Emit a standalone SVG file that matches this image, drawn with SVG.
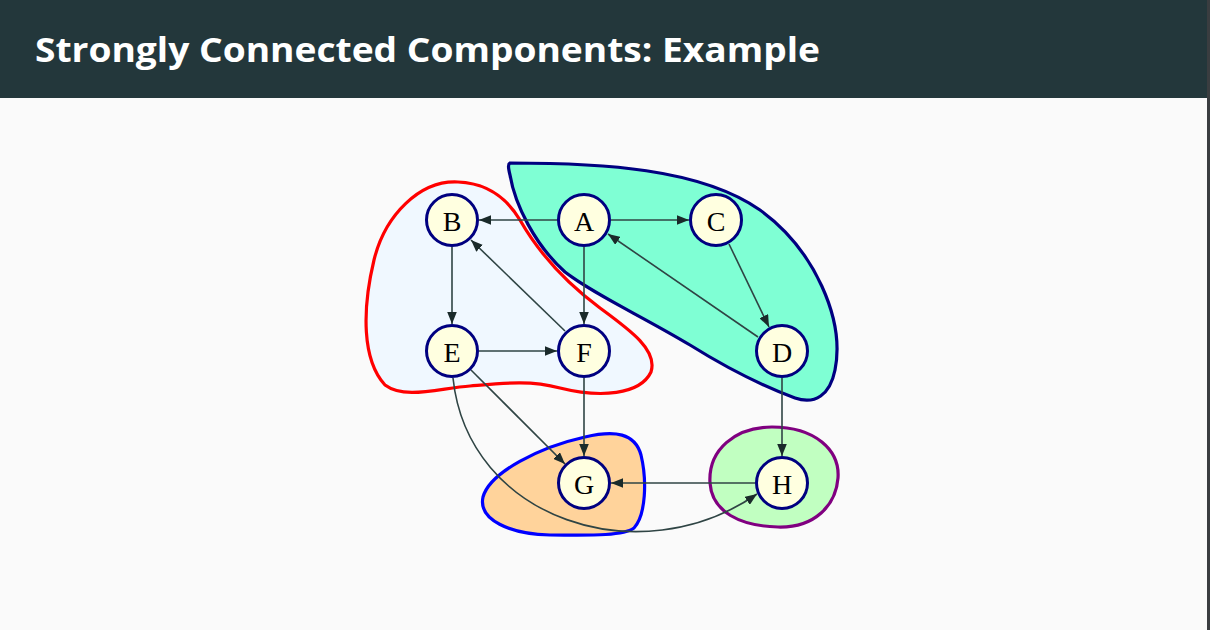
<svg xmlns="http://www.w3.org/2000/svg" width="1210" height="630" viewBox="0 0 1210 630">
<defs>
<style>
.node circle{fill:#ffffe0;stroke:#000080;stroke-width:3}
.node text{font-family:"Liberation Serif",serif;font-size:28px;fill:#000;text-anchor:middle;dominant-baseline:central}
.edge{fill:none;stroke:#2f4444;stroke-width:1.6;marker-end:url(#arr)}
.blob{stroke-width:3.2;stroke-linejoin:round}
</style>
<marker id="arr" viewBox="0 0 10 8" refX="10" refY="4" markerWidth="12" markerHeight="9.6" markerUnits="userSpaceOnUse" orient="auto">
<path d="M0,0 L10,4 L0,8 Z" fill="#1a2a2a"/>
</marker>
</defs>
<rect x="0" y="0" width="1210" height="630" fill="#fafafa"/>
<rect x="0" y="0" width="1210" height="98" fill="#23373b"/>
<rect x="1207" y="0" width="3" height="630" fill="#3a3d40"/>
<text x="35" y="62" font-family="'Open Sans','DejaVu Sans',sans-serif" font-weight="700" font-size="34" fill="#ffffff" textLength="785" lengthAdjust="spacingAndGlyphs">Strongly Connected Components: Example</text>

<g id="blobs">
<path id="scc-BEF" class="blob" fill="#f0f8ff" stroke="#ff0000" d="M458,182 C420,180 385,215 374,260 C362,310 362,360 385,385 C405,400 440,388 470,386 C505,383 530,380 560,388 C600,398 640,395 651,372 C658,350 630,330 600,308 C565,282 540,255 520,220 C505,195 485,183 458,182 Z"/>
<path id="scc-ACD" class="blob" fill="#7fffd4" stroke="#000080" d="M510,163 C600,163 700,168 760,210 C815,250 845,320 835,370 C830,395 815,405 795,398 C760,385 730,370 690,345 C640,315 595,295 565,272 C535,245 515,205 510,175 C508,167 508,164 510,163 Z"/>
<path id="scc-G" class="blob" fill="#ffd39b" stroke="#0000ff" d="M483,497 C490,472 540,447 585,437 C615,430 635,433 641,455 C647,480 646,515 634,528 C622,537 580,535 550,535 C510,534 478,520 483,497 Z"/>
<path id="scc-H" class="blob" fill="#c1ffc1" stroke="#800080" d="M710,483 C708,450 735,427 772,427 C815,427 840,450 838,478 C836,505 815,528 778,527 C740,526 712,512 710,483 Z"/>
</g>

<g id="connectors">
<line class="edge" x1="557" y1="220" x2="479" y2="220"/>
<line class="edge" x1="611" y1="220" x2="689" y2="220"/>
<line class="edge" x1="584" y1="247" x2="584" y2="324"/>
<line class="edge" x1="452" y1="247" x2="452" y2="324"/>
<line class="edge" x1="479" y1="351" x2="557" y2="351"/>
<line class="edge" x1="565" y1="331" x2="471" y2="240"/>
<line class="edge" x1="729" y1="244" x2="769" y2="327"/>
<line class="edge" x1="758" y1="337" x2="608" y2="234"/>
<line class="edge" x1="782" y1="378" x2="782" y2="456"/>
<line class="edge" x1="584" y1="378" x2="584" y2="456"/>
<line class="edge" x1="471" y1="370" x2="565" y2="464"/>
<line class="edge" x1="755" y1="483" x2="611" y2="483"/>
<path class="edge" d="M453,378 C468,520 640,575 757,494"/>
</g>

<g id="node-A" class="node"><circle cx="584" cy="220" r="25.5"/><text x="584" y="221">A</text></g>
<g id="node-B" class="node"><circle cx="452" cy="220" r="25.5"/><text x="452" y="221">B</text></g>
<g id="node-C" class="node"><circle cx="716" cy="220" r="25.5"/><text x="716" y="221">C</text></g>
<g id="node-D" class="node"><circle cx="782" cy="351" r="25.5"/><text x="782" y="352">D</text></g>
<g id="node-E" class="node"><circle cx="452" cy="351" r="25.5"/><text x="452" y="352">E</text></g>
<g id="node-F" class="node"><circle cx="584" cy="351" r="25.5"/><text x="584" y="352">F</text></g>
<g id="node-G" class="node"><circle cx="584" cy="483" r="25.5"/><text x="584" y="484">G</text></g>
<g id="node-H" class="node"><circle cx="782" cy="483" r="25.5"/><text x="782" y="484">H</text></g>
</svg>
